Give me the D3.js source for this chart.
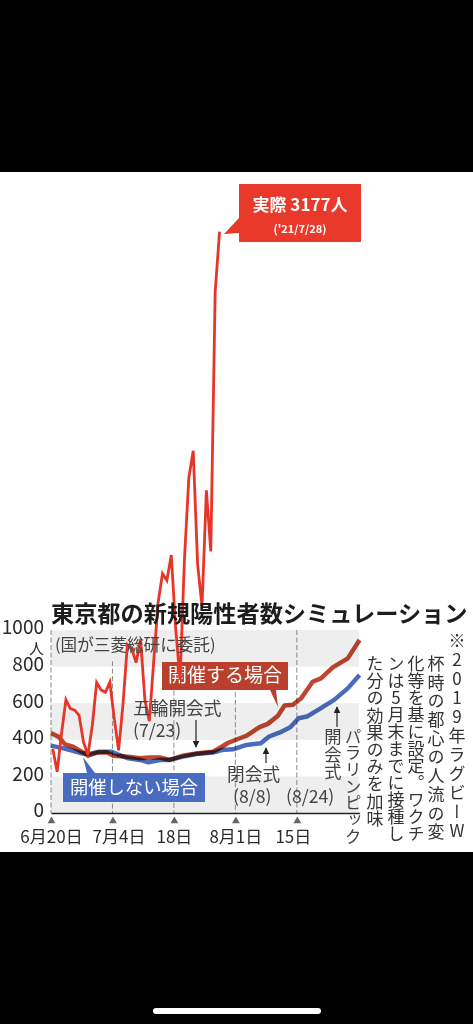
<!DOCTYPE html>
<html>
<head>
<meta charset="utf-8">
<script src="https://cdnjs.cloudflare.com/ajax/libs/d3/7.8.5/d3.min.js"></script>
<style>
html, body { margin: 0; padding: 0; background: #000; overflow: hidden; }
svg { display: block; }
text { font-family: "Noto Sans CJK JP", "Noto Sans", sans-serif; fill: #2b2b2b; }
</style>
</head>
<body>
<svg id="chart"></svg>
<script>
// daily reported cases, from 6/20 to 7/28
var actual = [351, 225, 435, 619, 570, 562, 534, 388, 317, 476, 714, 673, 660, 716, 518, 342, 593, 920, 896, 822, 950, 614, 502, 830, 1149, 1308, 1271, 1410, 1008, 727, 1387, 1832, 1979, 1359, 1128, 1763, 1429, 2848, 3177]

// simulation curves, days counted from 6/20
var withGamesDays = [0, 1.7, 3.2, 5, 7, 8.5, 10.4, 12.7, 14.2, 17.6, 20.3, 22.5, 24.8, 27, 30.1, 33.1, 36.9, 38.9, 40.4, 42, 44.5, 47.5, 49.4, 51.7, 53.2, 55.1, 57, 59.6, 61.5, 64.2, 67.6, 70.3]
var withGames = [437, 417, 375, 362, 335, 313, 330, 332, 313, 307, 299, 303, 303, 290, 313, 325, 335, 362, 384, 399, 422, 469, 487, 531, 587, 591, 627, 717, 736, 796, 845, 945]

var noGamesDays = [0, 2.8, 5, 7, 8.5, 11, 13.7, 15.2, 17.6, 20.3, 22.2, 24.8, 27, 30.1, 33.1, 36.9, 38.9, 41.5, 44.5, 47.8, 49.7, 52.6, 54.5, 56.4, 58.3, 61.5, 64.5, 67.6, 70.3]
var noGames = [368, 353, 340, 326, 322, 335, 335, 320, 299, 290, 277, 290, 290, 308, 322, 330, 344, 348, 372, 381, 418, 445, 469, 518, 527, 573, 618, 681, 754]

var yTicks = [0, 200, 400, 600, 800, 1000]
var bands = [[0, 200], [400, 600], [800, 1000]]
var xTicks = [0, 14, 28, 42, 56]
var xLabels = ["6月20日", "7月4日", "18日", "8月1日", "15日"]
var noteColumns = ["※2019年ラグビーW", "杯時の都心の人流の変", "化等を基に設定。ワクチ", "ンは5月末までに接種し", "た分の効果のみを加味"]

var width = 473, height = 1024

var svg = d3.select("#chart").attr("width", width).attr("height", height)

// the screenshot: white panel between black bars
svg.append("rect").attr("y", 172).attr("width", width).attr("height", 680).attr("fill", "#fff")
svg.append("rect").attr("x", 153).attr("y", 1008).attr("width", 168).attr("height", 6).attr("rx", 3).attr("fill", "#fff")

var x = d3.scaleLinear().domain([0, 70.3]).range([51, 359.6])
var y = d3.scaleLinear().domain([0, 1000]).range([813, 630])

// grey bands
svg.append("g").selectAll("rect")
    .data(bands)
    .enter().append("rect")
    .attr("x", x(0))
    .attr("width", 308)
    .attr("y", d => y(d[1]))
    .attr("height", d => y(d[0]) - y(d[1]))
    .attr("fill", "#eeeeee")

// dashed date lines, some of them stop under the labels
var dashTops = [1000, 830, 670, 660, 1000]
svg.append("g").selectAll("line")
    .data(xTicks)
    .enter().append("line")
    .attr("x1", d => x(d))
    .attr("x2", d => x(d))
    .attr("y1", (d, i) => y(dashTops[i]))
    .attr("y2", y(0))
    .attr("stroke", "#8a8a8a")
    .attr("stroke-width", 1)
    .attr("stroke-dasharray", "5,2.5")

// axes
var xAxis = svg.append("g")
    .attr("transform", "translate(0," + y(0) + ")")
    .call(d3.axisBottom(x).tickValues(xTicks).tickSize(0).tickPadding(18).tickFormat((d, i) => xLabels[i]))
xAxis.select(".domain").attr("stroke", "#222").attr("stroke-width", 1.6)
xAxis.selectAll("text")
    .attr("font-size", 17)
    .attr("dx", (d, i) => [0, 6, 0, 0, -4][i])
    .style("font-family", '"Noto Sans CJK JP"')
    .style("fill", "#2b2b2b")
xAxis.selectAll(".tick").append("path")
    .attr("d", d3.symbol(d3.symbolTriangle, 26))
    .attr("transform", "translate(0,8)")
    .attr("fill", "#666")

var yAxis = svg.append("g")
    .attr("transform", "translate(" + 48 + ",0)")
    .call(d3.axisLeft(y).tickValues(yTicks).tickSize(0).tickPadding(4).tickFormat(d3.format("d")))
yAxis.select(".domain").remove()
yAxis.selectAll("text")
    .attr("font-size", 19)
    .attr("dy", "0.2em")
    .style("font-family", '"Noto Sans CJK JP"')
    .style("fill", "#2b2b2b")

function label(txt, px, py, size, anchor, weight) {
    return svg.append("text")
        .attr("x", px)
        .attr("y", py)
        .attr("font-size", size)
        .attr("text-anchor", anchor || "start")
        .attr("font-weight", weight || 400)
        .text(txt)
}

function vlabel(txt, px, py, size, spacing) {
    return svg.append("text")
        .attr("x", px)
        .attr("y", py)
        .attr("font-size", size)
        .style("writing-mode", "vertical-rl")
        .style("text-orientation", "upright")
        .style("letter-spacing", spacing + "px")
        .text(txt)
}

label("人", 44, 654, 15, "end")

// series boxes, drawn before the lines
svg.append("path")
    .attr("d", "M63,773H87L83,757L95,773H205V802H63Z")
    .attr("fill", "#4a6cc0")
svg.append("path")
    .attr("d", "M162,662H288V690H276L278,707L270,690H162Z")
    .attr("fill", "#b8402c")
label("開催する場合", 225, 682, 19, "middle").style("fill", "#fff")
label("開催しない場合", 134, 794, 18.3, "middle").style("fill", "#fff")

// simulation lines, multiply gives the dark part where they run together
function simLine(days, vals, color) {
    var line = d3.line()
        .x((d, i) => x(days[i]))
        .y(d => y(d))
    svg.append("path")
        .datum(vals)
        .attr("d", line)
        .attr("fill", "none")
        .attr("stroke", color)
        .attr("stroke-width", 4.5)
        .attr("stroke-linejoin", "round")
        .style("mix-blend-mode", "multiply")
}
simLine(noGamesDays, noGames, "#4a6cc0")
simLine(withGamesDays, withGames, "#bf452e")

// actual cases, the points sit a little right of the date lines
var actualLine = d3.line()
    .x((d, i) => x(i + 0.4))
    .y(d => y(d))
svg.append("path")
    .datum(actual)
    .attr("d", actualLine)
    .attr("fill", "none")
    .attr("stroke", "#e8352a")
    .attr("stroke-width", 2.8)
    .attr("stroke-linejoin", "miter")

// callout
svg.append("path")
    .attr("d", "M239,184H361V242H239V233L224,234L239,218Z")
    .attr("fill", "#e8392a")
label("実際 3177人", 300, 211, 17, "middle", 700).style("fill", "#fff")
label("('21/7/28)", 300, 233, 11, "middle", 700).style("fill", "#fff")

// title and notes
label("東京都の新規陽性者数シミュレーション", 51, 622, 23.2, "start", 700).style("fill", "#1c1c1c")
label("(国が三菱総研に委託)", 55, 651, 16.6).style("fill", "#444")

label("五輪開会式", 133, 715, 17.7).style("fill", "#444")
label("(7/23)", 133, 737, 17.7).style("fill", "#444")
label("閉会式", 227, 781, 17.7).style("fill", "#444")
label("(8/8)", 233, 803, 17.7).style("fill", "#444")
label("(8/24)", 286, 803, 17.7).style("fill", "#444")
vlabel("開会式", 333, 728, 17.3, 0).style("fill", "#444")
vlabel("パラリンピック", 353, 728, 16.7, 0).style("fill", "#444")

// small arrows
svg.append("defs").append("marker")
    .attr("id", "arrow")
    .attr("viewBox", "0 0 10 10")
    .attr("refX", 9).attr("refY", 5)
    .attr("markerWidth", 7).attr("markerHeight", 7)
    .attr("markerUnits", "userSpaceOnUse")
    .attr("orient", "auto")
    .append("path").attr("d", "M0,0L10,5L0,10Z").attr("fill", "#222")
var arrows = [[196, 720, 196, 747], [266, 763, 266, 748], [337, 727, 337, 707]]
svg.append("g").selectAll("line")
    .data(arrows)
    .enter().append("line")
    .attr("x1", d => d[0]).attr("y1", d => d[1])
    .attr("x2", d => d[2]).attr("y2", d => d[3])
    .attr("stroke", "#222")
    .attr("stroke-width", 1.2)
    .attr("marker-end", "url(#arrow)")

var noteX = [457, 436, 416, 396, 375]
var noteY = [632, 655, 655, 655, 655]
var noteSize = [17, 17, 17, 17, 17]
var noteGap = [2, 1.7, 0, 0, 0.2]
noteColumns.forEach(function (txt, i) {
    vlabel(txt, noteX[i], noteY[i], noteSize[i], noteGap[i]).style("fill", "#333")
})
</script>
</body>
</html>
